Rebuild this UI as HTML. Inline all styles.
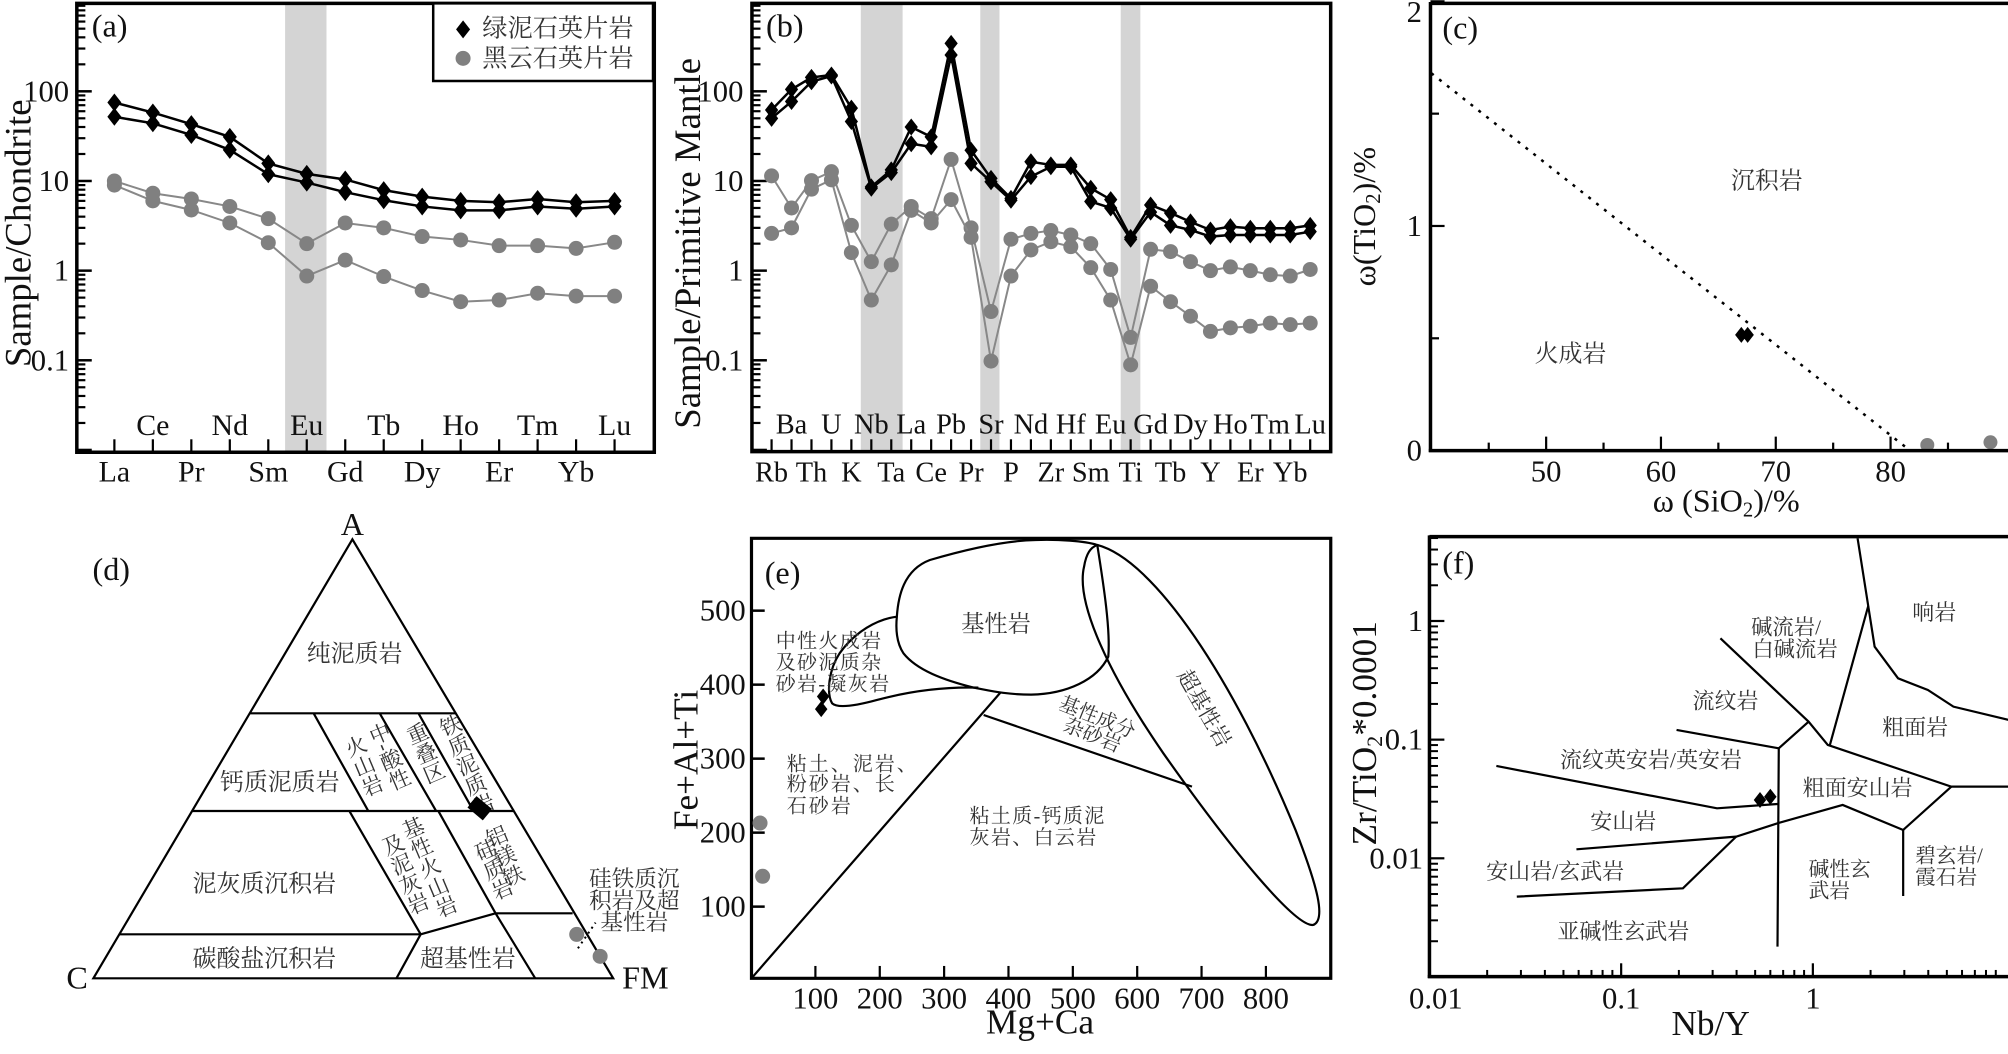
<!DOCTYPE html>
<html><head><meta charset="utf-8"><style>
html,body{margin:0;padding:0;background:#fff;overflow:hidden;}
svg{display:block;}
svg *{vector-effect:non-scaling-stroke;}
.lat{font-family:"Liberation Serif",serif;fill:#111;}
.cjk{font-family:"Liberation Serif","Noto Serif CJK SC",serif;fill:#333;}
</style></head><body>
<svg id="fig" xmlns="http://www.w3.org/2000/svg" width="2008" height="1054" viewBox="0 0 2008 1054">
<rect x="0" y="0" width="2008" height="1054" fill="#fff"/>
<g id="gA" transform="translate(0,0) scale(0.4268,0.3333)">
 <rect x="668" y="10" width="97" height="1347" fill="#d4d4d4"/>
 <g id="aMarks"></g>
 <rect x="180" y="10" width="1353" height="1347" fill="none" stroke="#000" stroke-width="3.5"/>
 <text class="lat" x="215" y="110" font-size="84">(a)</text>
 <rect x="1015" y="10" width="515" height="233" fill="#fff" stroke="#000" stroke-width="2.5"/>
 <g id="legendMarks"></g>
 <text class="cjk" x="1130" y="110" font-size="78">绿泥石英片岩</text>
 <text class="cjk" x="1130" y="200" font-size="78">黑云石英片岩</text>
 <text class="lat" transform="translate(72,700) rotate(-90)" text-anchor="middle" font-size="96">Sample/Chondrite</text>
</g>
<g id="gB" transform="translate(670,0) scale(0.4268,0.3333)">
 <rect x="447" y="10" width="98" height="1345" fill="#d4d4d4"/>
 <rect x="727" y="10" width="45" height="1345" fill="#d4d4d4"/>
 <rect x="1056" y="10" width="46" height="1345" fill="#d4d4d4"/>
 <g id="bMarks"></g>
 <rect x="192" y="10" width="1356" height="1345" fill="none" stroke="#000" stroke-width="3.5"/>
 <text class="lat" x="225" y="110" font-size="84">(b)</text>
 <text class="lat" transform="translate(70,730) rotate(-90)" text-anchor="middle" font-size="96">Sample/Primitive Mantle</text>
</g>
<g id="gC" transform="translate(1340,0) scale(0.4268,0.3333)">
 <g id="cMarks"></g>
 <line x1="212" y1="10" x2="1580" y2="10" stroke="#000" stroke-width="3.5"/>
 <line x1="212" y1="6" x2="212" y2="1356" stroke="#000" stroke-width="3.5"/>
 <line x1="208" y1="1352" x2="1580" y2="1352" stroke="#000" stroke-width="3.5"/>
 <text class="lat" x="240" y="115" font-size="84">(c)</text>
 <text class="cjk" x="1000" y="565" text-anchor="middle" font-size="74">沉积岩</text>
 <text class="cjk" x="540" y="1085" text-anchor="middle" font-size="74">火成岩</text>
 <text class="lat" transform="translate(82,650) rotate(-90)" text-anchor="middle" font-size="84">ω(TiO<tspan font-size="54" dy="15">2</tspan><tspan dy="-15">)/%</tspan></text>
 <text class="lat" x="905" y="1535" text-anchor="middle" font-size="84">ω (SiO<tspan font-size="54" dy="15">2</tspan><tspan dy="-15">)/%</tspan></text>
</g>
<g id="gD" transform="translate(0,520) scale(0.4405,0.3333)" fill="none" stroke="#000" stroke-width="2.2">
 <path d="M800,58 L212,1375 L1392,1375 Z"/>
 <path d="M568,580 L1035,580 M437,873 L1168,873 M270,1243 L955,1243 M712,580 L836,873 M862,580 L990,873 M950,580 L1075,873 M793,873 L955,1243 M995,873 L1125,1180 M1125,1180 L1300,1180 M955,1243 L1125,1180 M955,1243 L900,1375 M1125,1180 L1215,1375"/>
 <path d="M1312,1285 L1352,1208" stroke-dasharray="2,4" stroke-width="2"/>
 <g stroke="none">
 <text class="lat" x="800" y="45" text-anchor="middle" font-size="84">A</text>
 <text class="lat" x="175" y="1405" text-anchor="middle" font-size="84">C</text>
 <text class="lat" x="1465" y="1405" text-anchor="middle" font-size="84">FM</text>
 <text class="lat" x="210" y="180" font-size="84">(d)</text>
 <text class="cjk" x="805" y="425" text-anchor="middle" font-size="74">纯泥质岩</text>
 <text class="cjk" x="635" y="810" text-anchor="middle" font-size="74">钙质泥质岩</text>
 <text class="cjk" x="600" y="1115" text-anchor="middle" font-size="74">泥灰质沉积岩</text>
 <text class="cjk" x="600" y="1340" text-anchor="middle" font-size="74">碳酸盐沉积岩</text>
 <text class="cjk" x="1062" y="1340" text-anchor="middle" font-size="74">超基性岩</text>
 <text class="cjk" x="1440" y="1100" text-anchor="middle" font-size="70">硅铁质沉</text>
 <text class="cjk" x="1440" y="1165" text-anchor="middle" font-size="70">积岩及超</text>
 <text class="cjk" x="1440" y="1230" text-anchor="middle" font-size="70">基性岩</text>
 <text class="cjk" transform="translate(850,612) rotate(-23)" font-size="66" style="writing-mode:vertical-rl">中-酸性</text>
 <text class="cjk" transform="translate(795,650) rotate(-23)" font-size="66" style="writing-mode:vertical-rl">火山岩</text>
 <text class="cjk" transform="translate(935,612) rotate(-23)" font-size="66" style="writing-mode:vertical-rl">重叠区</text>
 <text class="cjk" transform="translate(1010,588) rotate(-23)" font-size="66" style="writing-mode:vertical-rl">铁质泥质岩</text>
 <text class="cjk" transform="translate(925,895) rotate(-23)" font-size="66" style="writing-mode:vertical-rl">基性火山岩</text>
 <text class="cjk" transform="translate(880,945) rotate(-23)" font-size="66" style="writing-mode:vertical-rl">及泥灰岩</text>
 <text class="cjk" transform="translate(1115,920) rotate(-23)" font-size="66" style="writing-mode:vertical-rl">铝镁铁</text>
 <text class="cjk" transform="translate(1090,960) rotate(-23)" font-size="66" style="writing-mode:vertical-rl">硅质岩</text>
 <g id="dMarks"></g>
 </g>
</g>
<g id="gE" transform="translate(670,520) scale(0.4405,0.3333)">
 <g fill="none" stroke="#000" stroke-width="2.2">
  <path d="M515,290 C470,298 420,335 385,400 C360,450 355,520 368,550 C380,565 420,558 470,540 C540,515 620,500 700,503"/>
  <path d="M515,290 C518,230 530,150 590,120 C680,85 760,62 830,60 C880,58 940,62 970,75 C985,200 1000,330 995,410 C970,480 900,522 820,524 C760,524 720,510 690,503 C620,480 560,450 530,400 C515,370 512,330 515,290 Z"/>
  <path d="M970,75 C1100,120 1280,480 1420,930 C1470,1100 1490,1200 1460,1215 C1420,1220 1280,1000 1120,700 C1000,470 920,250 940,140 C945,100 955,82 970,75 Z"/>
  <path d="M185,1375 L750,518 M712,585 L1185,800"/>
 </g>
 <rect x="185" y="55" width="1315" height="1320" fill="none" stroke="#000" stroke-width="3.2"/>
 <g id="eMarks"></g>
 <text class="lat" x="215" y="190" font-size="84">(e)</text>
 <text class="cjk" x="740" y="335" text-anchor="middle" font-size="72">基性岩</text>
 <text class="cjk" x="240" y="382" font-size="62" letter-spacing="4">中性火成岩</text>
 <text class="cjk" x="240" y="447" font-size="62" letter-spacing="4">及砂泥质杂</text>
 <text class="cjk" x="240" y="512" font-size="62" letter-spacing="4">砂岩-凝灰岩</text>
 <text class="cjk" x="265" y="752" font-size="62" letter-spacing="6">粘土、泥岩、</text>
 <text class="cjk" x="265" y="812" font-size="62" letter-spacing="6">粉砂岩、长</text>
 <text class="cjk" x="265" y="877" font-size="62" letter-spacing="6">石砂岩</text>
 <text class="cjk" x="680" y="907" font-size="62" letter-spacing="4">粘土质-钙质泥</text>
 <text class="cjk" x="680" y="972" font-size="62" letter-spacing="4">灰岩、白云岩</text>
 <text class="cjk" transform="translate(880,565) rotate(22)" font-size="62">基性成分</text>
 <text class="cjk" transform="translate(890,630) rotate(22)" font-size="62">杂砂岩</text>
 <text class="cjk" transform="translate(1150,465) rotate(60)" font-size="66">超基性岩</text>
 <text class="lat" transform="translate(62,720) rotate(-90)" text-anchor="middle" font-size="92">Fe+Al+Ti</text>
 <text class="lat" x="840" y="1540" text-anchor="middle" font-size="92">Mg+Ca</text>
</g>
<g id="gF" transform="translate(1340,520) scale(0.426,0.3333)">
 <g fill="none" stroke="#000" stroke-width="2.2">
  <path d="M1215,55 L1240,258 L1255,380 L1310,475 L1380,510 L1440,560 L1570,600"/>
  <path d="M1240,258 L1150,675"/>
  <path d="M893,355 L1100,605 L1145,675 L1435,800 L1570,800"/>
  <path d="M1100,605 L1030,685 L1027,1280"/>
  <path d="M790,630 L1030,685"/>
  <path d="M367,738 L885,865 L1027,852"/>
  <path d="M555,988 L930,950 L1027,910 L1180,855 L1322,930 L1435,800"/>
  <path d="M1322,930 L1322,1128"/>
  <path d="M415,1130 L805,1105 L930,950"/>
 </g>
 <g id="fMarks"></g>
 <line x1="210" y1="50" x2="1575" y2="50" stroke="#000" stroke-width="3.5"/>
 <line x1="210" y1="46" x2="210" y2="1374" stroke="#000" stroke-width="3.5"/>
 <line x1="206" y1="1370" x2="1575" y2="1370" stroke="#000" stroke-width="3.5"/>
 <text class="lat" x="240" y="160" font-size="84">(f)</text>
 <text class="cjk" x="1395" y="300" text-anchor="middle" font-size="68">响岩</text>
 <text class="cjk" x="965" y="343" font-size="66">碱流岩/</text>
 <text class="cjk" x="968" y="410" font-size="66">白碱流岩</text>
 <text class="cjk" x="905" y="565" text-anchor="middle" font-size="68">流纹岩</text>
 <text class="cjk" x="1350" y="645" text-anchor="middle" font-size="68">粗面岩</text>
 <text class="cjk" x="730" y="742" text-anchor="middle" font-size="68">流纹英安岩/英安岩</text>
 <text class="cjk" x="1215" y="827" text-anchor="middle" font-size="68">粗面安山岩</text>
 <text class="cjk" x="665" y="927" text-anchor="middle" font-size="68">安山岩</text>
 <text class="cjk" x="1350" y="1028" font-size="64">碧玄岩/</text>
 <text class="cjk" x="1350" y="1092" font-size="64">霞石岩</text>
 <text class="cjk" x="1100" y="1068" font-size="64">碱性玄</text>
 <text class="cjk" x="1100" y="1132" font-size="64">武岩</text>
 <text class="cjk" x="505" y="1077" text-anchor="middle" font-size="68">安山岩/玄武岩</text>
 <text class="cjk" x="665" y="1257" text-anchor="middle" font-size="68">亚碱性玄武岩</text>
 <text class="lat" transform="translate(85,640) rotate(-90)" text-anchor="middle" font-size="92">Zr/TiO<tspan font-size="58" dy="18">2</tspan><tspan dy="-18">*0.0001</tspan></text>
 <text class="lat" x="870" y="1545" text-anchor="middle" font-size="92">Nb/Y</text>
</g>
</svg>
<script>
// ---------- data ----------
const reeElements = ["La","Ce","Pr","Nd","Sm","Eu","Gd","Tb","Dy","Ho","Er","Tm","Yb","Lu"];
const reeChlorite1 = [75,58,43,31,15.7,12,10.4,7.9,6.7,6.0,5.8,6.3,5.8,6.0];
const reeChlorite2 = [52,44,32.6,22.2,11.9,9.6,7.5,6.1,5.2,4.7,4.7,5.2,4.9,5.2];
const reeBiotite1 = [10,7.3,6.3,5.2,3.8,2.0,3.4,3.0,2.4,2.2,1.9,1.9,1.77,2.07];
const reeBiotite2 = [9.0,6.0,4.75,3.4,2.05,0.87,1.31,0.86,0.6,0.45,0.47,0.56,0.52,0.52];
const logTicks = [0.01,0.1,1,10,100,1000];
const logTickLabels = ["0.1","1","10","100"];
const logTickLabelValues = [0.1,1,10,100];

const spiderElements = ["Rb","Ba","Th","U","K","Nb","Ta","La","Ce","Pb","Pr","Sr","P","Nd","Zr","Hf","Sm","Eu","Ti","Gd","Tb","Dy","Y","Ho","Er","Tm","Yb","Lu"];
const spiderChlorite1 = [62,105,143,152,65,8.6,13.3,40,31,343,22,10.7,6.4,16.4,15.1,15.1,8.3,6.2,2.35,5.4,4.4,3.5,2.84,3.1,2.97,2.97,2.97,3.2];
const spiderChlorite2 = [50,77,128,148,46,8.3,12.4,26,24,254,15.7,9.8,6.1,11.2,14.4,14.4,5.9,5.0,2.24,4.5,3.2,2.84,2.4,2.5,2.5,2.5,2.5,2.72];
const spiderBiotite1 = [11.4,5.0,10.1,12.7,3.2,1.26,3.3,5.2,3.8,17.4,3.0,0.35,2.24,2.6,2.8,2.5,2.0,1.03,0.18,1.73,1.63,1.26,1.0,1.1,1.0,0.9,0.87,1.03];
const spiderBiotite2 = [2.6,3.0,8.1,10.3,1.59,0.47,1.16,4.7,3.4,6.2,2.35,0.098,0.87,1.7,2.1,1.85,1.08,0.47,0.089,0.67,0.45,0.31,0.21,0.23,0.24,0.26,0.25,0.26];

const cSiO2Chlorite = [67.0,67.55];
const cTiO2Chlorite = [0.515,0.515];
const cSiO2Biotite = [83.2,88.7];
const cTiO2Biotite = [0.025,0.037];
const cDivideSiO2 = [40,81.7];
const cDivideTiO2 = [1.68,0];
const cXTicks = [50,60,70,80];
const cXMinor = [45,55,65,75,85];
const cYTicks = [0,1,2];
const cYMinor = [0.5,1.5];

const eMgCaChlorite = [112,109];
const eFeAlTiChlorite = [384,367];
const eMgCaBiotite = [14,18];
const eFeAlTiBiotite = [213,141];
const eXTicks = [100,200,300,400,500,600,700,800];
const eYTicks = [100,200,300,400,500];

const fNbYChlorite = [0.53,0.6];
const fZrTiChlorite = [0.031,0.033];
const fXTicks = [0.01,0.1,1];
const fXTickLabels = ["0.01","0.1","1"];
const fYTicks = [0.001,0.01,0.1,1];
const fYTickLabels = ["","0.01","0.1","1"];

const dChloriteA = [0.39,0.385];
const dChloriteC = [0.06,0.065];
const dBiotiteA = [0.10,0.05];
const dBiotiteC = [0.02,0.0];

// ---------- helpers ----------
const NS="http://www.w3.org/2000/svg";
const SC={A:[0.4268,0.3333],B:[0.4268,0.3333],C:[0.4268,0.3333],D:[0.4405,0.3333],E:[0.4405,0.3333],F:[0.426,0.3333]};
function mk(tag,attrs,parent){const e=document.createElementNS(NS,tag);for(const k in attrs)e.setAttribute(k,attrs[k]);parent.appendChild(e);return e;}
function diamond(x,y,R,parent,s){return mk("path",{d:`M${x},${y-R/s[1]} L${x+0.78*R/s[0]},${y} L${x},${y+R/s[1]} L${x-0.78*R/s[0]},${y} Z`,fill:"#000"},parent);}
function dot(x,y,R,parent,s){return mk("ellipse",{cx:x,cy:y,rx:R/s[0],ry:R/s[1],fill:"#808080"},parent);}
function txt(x,y,s,size,anchor,parent){const t=mk("text",{x:x,y:y,"font-size":size,"text-anchor":anchor,class:"lat"},parent);t.textContent=s;return t;}

(function(){const g=document.getElementById("legendMarks");
 const a=diamond(1085,88,9,g,SC.A);
 const b=dot(1085,175,7.5,g,SC.A);})();

// ---------- panel a ----------
(function(){
 const g=document.getElementById("aMarks"), s=SC.A;
 const x=i=>268+i*90.15, y=v=>812-269*Math.log10(v);
 for(let d=0;d<logTicks.length;d++){
  const v=logTicks[d];
  if(y(v)>=8&&y(v)<=1360){const t=mk("line",{x1:180,x2:215,y1:y(v),y2:y(v),stroke:"#000","stroke-width":2.5},g);
  
  }
  if(d<logTicks.length-1)for(let m=2;m<10;m++){const yy=y(v*m);if(yy>10&&yy<1357)mk("line",{x1:180,x2:200,y1:yy,y2:yy,stroke:"#000","stroke-width":2.2},g);}
 }
 logTickLabelValues.forEach((v,i)=>{const t=txt(162,y(v)+30,logTickLabels[i],80,"end",g);
  
  });
 reeElements.forEach((el,i)=>{
  mk("line",{x1:x(i),x2:x(i),y1:1357,y2:1318,stroke:"#000","stroke-width":2.2},g);
  const t=txt(x(i),i%2===0?1445:1305,el,78,"middle",g);
  
  
 });
 [[reeBiotite1,"#888"],[reeBiotite2,"#888"],[reeChlorite1,"#000"],[reeChlorite2,"#000"]].forEach(([ser,c],k)=>{
  const p=mk("polyline",{points:ser.map((v,i)=>x(i)+","+y(v)).join(" "),fill:"none",stroke:c,"stroke-width":k<2?2:2.5},g);
  
  
  ser.forEach((v,i)=>{let m;
   if(k<2){m=dot(x(i),y(v),7.5,g,s);}
   else{m=diamond(x(i),y(v),9,g,s);}
   });
 });
})();

// ---------- panel b ----------
(function(){
 const g=document.getElementById("bMarks"), s=SC.B;
 const x=i=>238+i*46.74, y=v=>812-269*Math.log10(v);
 for(let d=0;d<logTicks.length;d++){
  const v=logTicks[d];
  if(y(v)>=8&&y(v)<=1360)mk("line",{x1:192,x2:227,y1:y(v),y2:y(v),stroke:"#000","stroke-width":2.5},g);
  if(d<logTicks.length-1)for(let m=2;m<10;m++){const yy=y(v*m);if(yy>10&&yy<1355)mk("line",{x1:192,x2:212,y1:yy,y2:yy,stroke:"#000","stroke-width":2.2},g);}
 }
 logTickLabelValues.forEach((v,i)=>{const t=txt(172,y(v)+30,logTickLabels[i],80,"end",g);
  
  });
 spiderElements.forEach((el,i)=>{
  mk("line",{x1:x(i),x2:x(i),y1:1355,y2:1318,stroke:"#000","stroke-width":2.2},g);
  const t=txt(x(i),i%2===0?1445:1300,el,74,"middle",g);
  
  
 });
 [[spiderBiotite1,"#888"],[spiderBiotite2,"#888"],[spiderChlorite1,"#000"],[spiderChlorite2,"#000"]].forEach(([ser,c],k)=>{
  const p=mk("polyline",{points:ser.map((v,i)=>x(i)+","+y(v)).join(" "),fill:"none",stroke:c,"stroke-width":k<2?2:2.5},g);
  
  
  ser.forEach((v,i)=>{let m;
   if(k<2){m=dot(x(i),y(v),7.5,g,s);}
   else{m=diamond(x(i),y(v),8.5,g,s);}
   });
 });
})();

// ---------- panel c ----------
(function(){
 const g=document.getElementById("cMarks"), s=SC.C;
 const x=v=>214+(v-40)*26.9, y=v=>1352-v*674;
 cXTicks.forEach(v=>{mk("line",{x1:x(v),x2:x(v),y1:1352,y2:1310,stroke:"#000","stroke-width":2.2},g);
  const t=txt(x(v),1445,String(v),80,"middle",g);
  
  });
 cXMinor.forEach(v=>mk("line",{x1:x(v),x2:x(v),y1:1352,y2:1328,stroke:"#000","stroke-width":2.2},g));
 cYTicks.forEach(v=>{mk("line",{x1:212,x2:245,y1:y(v),y2:y(v),stroke:"#000","stroke-width":2.2},g);
  const t=txt(192,Math.max(y(v)+30,66),String(v),80,"end",g);
  
  });
 cYMinor.forEach(v=>mk("line",{x1:212,x2:232,y1:y(v),y2:y(v),stroke:"#000","stroke-width":2.2},g));
 const l=mk("line",{x1:x(cDivideSiO2[0]),y1:y(cDivideTiO2[0]),x2:x(cDivideSiO2[1]),y2:y(cDivideTiO2[1]),stroke:"#000","stroke-width":2.5,"stroke-dasharray":"3,7"},g);
 
 
 cSiO2Chlorite.forEach((v,i)=>{const m=diamond(x(v),y(cTiO2Chlorite[i]),8,g,s);
  
  });
 cSiO2Biotite.forEach((v,i)=>{const m=dot(x(v),y(cTiO2Biotite[i]),7,g,s);
  
  });
})();

// ---------- panel d ----------
(function(){
 const g=document.getElementById("dMarks"), s=SC.D;
 const Ap=[800,58],Cp=[212,1375],Fp=[1392,1375];
 const pt=(a,c)=>{const f=1-a-c;return [a*Ap[0]+c*Cp[0]+f*Fp[0],a*Ap[1]+c*Cp[1]+f*Fp[1]];};
 dChloriteA.forEach((a,i)=>{const p=pt(a,dChloriteC[i]);
  const m=mk("rect",{x:-10,y:-6,width:20,height:12,fill:"#000",transform:`translate(${p[0]},${p[1]}) scale(${1/s[0]},${1/s[1]}) rotate(40)`},g);
  
  });
 dBiotiteA.forEach((a,i)=>{const p=pt(a,dBiotiteC[i]);
  const m=dot(p[0],p[1],7.5,g,s);
  
  });
})();

// ---------- panel e ----------
(function(){
 const g=document.getElementById("eMarks"), s=SC.E;
 const x=v=>184+v*1.461, y=v=>1382-v*2.22;
 eXTicks.forEach(v=>{mk("line",{x1:x(v),x2:x(v),y1:1375,y2:1338,stroke:"#000","stroke-width":2.2},g);
  const t=txt(x(v),1465,String(v),80,"middle",g);
  
  });
 eYTicks.forEach(v=>{mk("line",{x1:185,x2:215,y1:y(v),y2:y(v),stroke:"#000","stroke-width":2.5},g);
  const t=txt(172,y(v)+30,String(v),80,"end",g);
  
  });
 eMgCaChlorite.forEach((v,i)=>{const m=diamond(x(v),y(eFeAlTiChlorite[i]),8,g,s);
  
  });
 eMgCaBiotite.forEach((v,i)=>{const m=dot(x(v),y(eFeAlTiBiotite[i]),7.5,g,s);
  
  });
})();

// ---------- panel f ----------
(function(){
 const g=document.getElementById("fMarks"), s=SC.F;
 const x=v=>210+450*Math.log10(v/0.01), y=v=>303-356*Math.log10(v);
 fXTicks.forEach((v,i)=>{mk("line",{x1:x(v),x2:x(v),y1:1370,y2:1330,stroke:"#000","stroke-width":2.2},g);
  for(let m=2;m<10;m++){const xx=x(v*m);if(xx<1575)mk("line",{x1:xx,x2:xx,y1:1370,y2:1350,stroke:"#000","stroke-width":2},g);}
  const t=txt(x(v)+(i===0?15:0),1465,fXTickLabels[i],80,"middle",g);
  
  });
 fYTicks.forEach((v,i)=>{mk("line",{x1:210,x2:245,y1:y(v),y2:y(v),stroke:"#000","stroke-width":2.2},g);
  for(let m=2;m<10;m++){const yy=y(v*m);if(yy>52)mk("line",{x1:210,x2:230,y1:yy,y2:yy,stroke:"#000","stroke-width":2},g);}
  if(fYTickLabels[i]){const t=txt(195,y(v)+30,fYTickLabels[i],80,"end",g);
  
  }});
 fNbYChlorite.forEach((v,i)=>{const m=diamond(x(v),y(fZrTiChlorite[i]),8,g,s);
  
  });
})();

// ---------- font scaling + undo anisotropic scaling for text ----------
Object.keys(SC).forEach(key=>{
 const grp=document.getElementById("g"+key), s=SC[key], k=s[1]/s[0];
 grp.querySelectorAll("text").forEach(t=>{
  const f=t.classList.contains("lat")?1.15:0.97;
  const fs=parseFloat(t.getAttribute("font-size"));
  if(fs)t.setAttribute("font-size",(fs*f).toFixed(1));
  t.querySelectorAll("tspan[font-size]").forEach(ts=>ts.setAttribute("font-size",(parseFloat(ts.getAttribute("font-size"))*f).toFixed(1)));
  const tr=t.getAttribute("transform");
  if(tr){
   const m=tr.match(/^\s*translate\(([^)]*)\)(.*)$/);
   if(m)t.setAttribute("transform",`translate(${m[1]}) scale(${k},1)${m[2]}`);
  } else {
   const x=parseFloat(t.getAttribute("x"))||0, y=parseFloat(t.getAttribute("y"))||0;
   t.setAttribute("transform",`translate(${x},${y}) scale(${k},1) translate(${-x},${-y})`);
  }
 });
});
</script>
</body></html>
